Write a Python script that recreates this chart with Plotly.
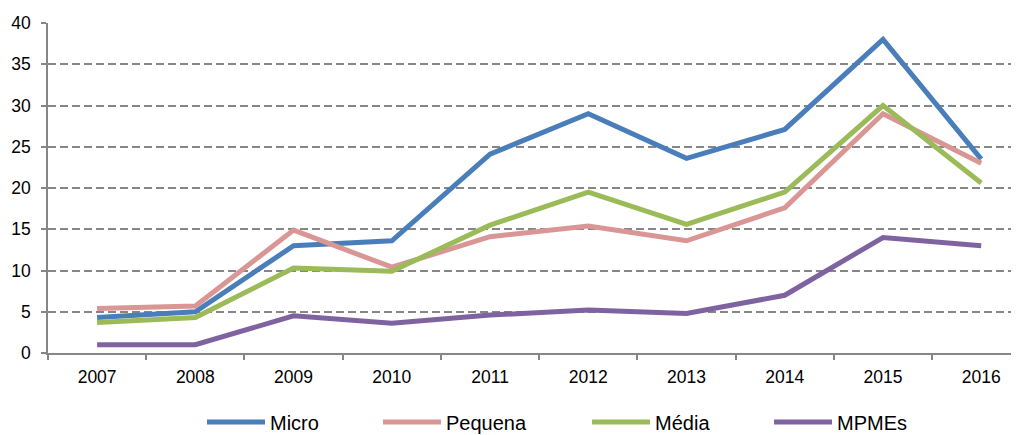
import plotly.graph_objects as go

years = ["2007", "2008", "2009", "2010", "2011", "2012", "2013", "2014", "2015", "2016"]
micro = [4.3, 5.0, 13.0, 13.6, 24.1, 29.0, 23.6, 27.1, 38.0, 23.5]
pequena = [5.4, 5.7, 14.9, 10.4, 14.1, 15.4, 13.6, 17.6, 29.0, 23.0]
media = [3.7, 4.3, 10.3, 9.9, 15.5, 19.5, 15.6, 19.5, 30.0, 20.6]
mpmes = [1.0, 1.0, 4.5, 3.6, 4.6, 5.2, 4.8, 7.0, 14.0, 13.0]
y_ticks = [0, 5, 10, 15, 20, 25, 30, 35, 40]

series = [
    ("Micro", micro, "#4A7EBB"),
    ("Pequena", pequena, "#D99694"),
    ("Média", media, "#9BBB59"),
    ("MPMEs", mpmes, "#7F63A1"),
]
legend_x = [0.1573, 0.3371, 0.5506, 0.7365]

fig = go.Figure()
layout_legends = {}
for i, (name, vals, col) in enumerate(series):
    lg = "legend" if i == 0 else f"legend{i + 1}"
    fig.add_trace(go.Scatter(x=years, y=vals, name=name, mode="lines",
                             line=dict(color=col, width=5), legend=lg))
    layout_legends[lg] = dict(orientation="h", x=legend_x[i], xanchor="left",
                              y=-0.209, yanchor="middle",
                              font=dict(size=20), itemwidth=58,
                              bgcolor="rgba(0,0,0,0)")

fig.update_layout(
    width=1019, height=435,
    margin=dict(l=40, r=0, t=14.7, b=90, autoexpand=False),
    plot_bgcolor="white", paper_bgcolor="white",
    font=dict(family="Liberation Sans, Arial, sans-serif", size=17.5, color="#000000"),
    showlegend=True,
    **layout_legends,
)
fig.update_xaxes(type="category", range=[-0.5, 9.466], tickson="boundaries",
                 ticks="outside", ticklen=5, tickcolor="#868686", tickwidth=1.5,
                 ticklabelstandoff=7,
                 showline=True, linecolor="#868686", linewidth=1.5,
                 showgrid=False, zeroline=False)
fig.update_yaxes(range=[0, 40], tickvals=y_ticks, ticks="outside", ticklen=5,
                 tickcolor="#868686", tickwidth=1.5, ticklabelstandoff=7,
                 showline=True, linecolor="#868686", linewidth=1.5,
                 showgrid=True, gridcolor="#868686", gridwidth=1.5,
                 griddash="8px,4px", zeroline=False)

fig.write_html("out.html")
